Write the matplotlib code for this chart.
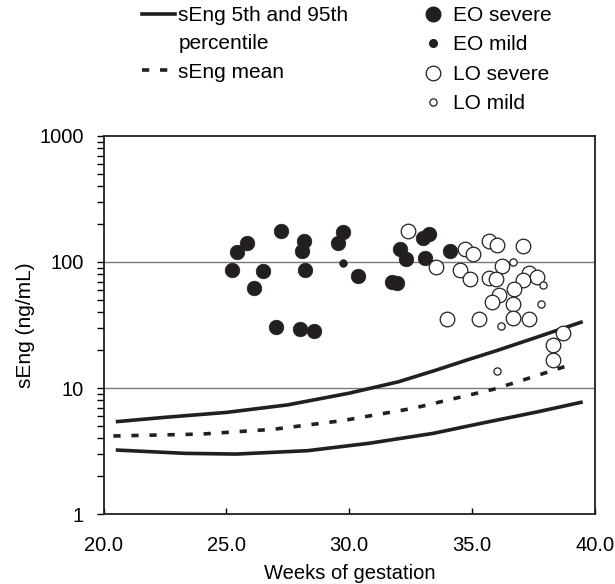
import numpy as np
import matplotlib
matplotlib.use("Agg")
from matplotlib import pyplot as plt
from matplotlib.lines import Line2D

plt.rcParams['font.family'] = ['Liberation Sans', 'DejaVu Sans']

INK = '#231f20'

# reference curves (weeks, sEng ng/mL)
p95_w = [20.5, 22.5, 25.0, 27.5, 30.0, 32.0, 33.5, 34.8, 36.0, 37.5, 39.5]
p95_v = [5.4, 5.85, 6.4, 7.35, 9.1, 11.2, 13.8, 16.7, 19.8, 24.8, 33.6]

p5_w = [20.5, 23.3, 25.4, 28.3, 30.8, 33.4, 35.5, 37.7, 39.5]
p5_v = [3.22, 3.03, 2.99, 3.18, 3.64, 4.36, 5.31, 6.49, 7.75]

mean_w = [20.4, 24.0, 26.9, 29.7, 32.6, 35.9, 37.5, 39.05]
mean_v = [4.16, 4.31, 4.7, 5.5, 6.9, 9.8, 12.3, 15.4]

# patients
eo_sev_w = [25.22, 25.43, 25.85, 26.13, 26.50, 27.22, 27.01, 28.14, 28.06, 28.21,
            28.01, 28.58, 29.55, 29.76, 30.35, 31.72, 31.95, 32.06, 32.31, 33.01,
            33.25, 33.09, 34.10]
eo_sev_v = [86.5, 119, 142, 61.8, 84.9, 175, 30.3, 146, 123, 86,
            29.3, 28.2, 142, 174, 77.4, 69.8, 68.5, 126, 105, 154,
            167, 107, 123]

eo_mild_w = [29.73]
eo_mild_v = [99]

lo_sev_w = [32.38, 33.53, 33.97, 34.73, 35.02, 35.68, 36.03, 37.08, 34.50, 34.91,
            36.22, 35.68, 35.97, 37.31, 37.62, 37.08, 36.70, 36.09, 35.81, 36.67,
            35.30, 36.67, 37.30, 38.30, 38.30, 38.71]
lo_sev_v = [176, 91.9, 35.1, 127, 116, 146, 136, 134, 86.9, 73.6,
            93.3, 74.3, 72.9, 82.3, 76.4, 71.6, 60.8, 54.5, 48.2, 46.1,
            35.2, 36.0, 35.4, 22.1, 16.7, 27.5]

lo_mild_w = [36.65, 37.87, 37.81, 36.16, 36.02]
lo_mild_v = [100, 66.1, 46.2, 31.0, 13.7]

xticks = [20, 25, 30, 35, 40]
yticks = [1, 10, 100, 1000]

fig = plt.figure(figsize=(6.15, 5.84), dpi=100)
ax = fig.add_axes([103.5/615, 1-514/584, (595-103.5)/615, (514-136)/584])

ax.set_yscale('log')
ax.set_xlim(20, 40)
ax.set_ylim(1, 1000)

for y in [10, 100]:
    ax.axhline(y, color='#7a7a7a', lw=1.0, zorder=1)

ax.plot(p95_w, p95_v, color=INK, lw=2.6, solid_capstyle='butt', zorder=2)
ax.plot(p5_w, p5_v, color=INK, lw=2.6, solid_capstyle='butt', zorder=2)
ax.plot(mean_w, mean_v, color=INK, lw=2.6, dashes=(2, 3), zorder=2)

ax.plot(eo_sev_w, eo_sev_v, 'o', ms=10.5, mfc=INK, mec=INK, mew=0.5, zorder=3)
ax.plot(eo_mild_w, eo_mild_v, 'o', ms=5.5, mfc=INK, mec=INK, mew=0.5, zorder=3)
ax.plot(lo_sev_w, lo_sev_v, 'o', ms=10.5, mfc='white', mec=INK, mew=0.9, zorder=4)
ax.plot(lo_mild_w, lo_mild_v, 'o', ms=5.2, mfc='white', mec=INK, mew=0.9, zorder=4)

ax.set_xticks(xticks)
ax.set_xticklabels(['%.1f' % x for x in xticks])
ax.set_yticks(yticks)
ax.set_yticklabels([str(y) for y in yticks])
ax.tick_params(axis='x', direction='in', length=4, width=1, pad=16, labelsize=14.5)
ax.tick_params(axis='y', which='major', direction='out', length=5, width=1, pad=9, labelsize=14.5)
ax.tick_params(axis='y', which='minor', direction='out', length=5, width=1)
ax.minorticks_on()
ax.tick_params(axis='x', which='minor', bottom=False)

for s in ax.spines.values():
    s.set_linewidth(1.3)
    s.set_color(INK)

ax.set_xlabel('Weeks of gestation', fontsize=14.5, labelpad=6)
ax.set_ylabel('sEng (ng/mL)', fontsize=15, labelpad=3)

# legends
line_handles = [Line2D([], [], color=INK, lw=2.6),
                Line2D([], [], color='none'),
                Line2D([], [], color=INK, lw=2.6, dashes=(2, 3))]
leg1 = fig.legend(line_handles, ['sEng 5th and 95th', 'percentile', 'sEng mean'],
                  loc='upper left', bbox_to_anchor=(142/615, 1-6/584),
                  frameon=False, fontsize=15, borderpad=0, borderaxespad=0,
                  handlelength=1.6, handletextpad=0.15, labelspacing=0.45)

mark_handles = [Line2D([], [], ls='none', marker='o', ms=10.5, mfc=INK, mec=INK),
                Line2D([], [], ls='none', marker='o', ms=5.5, mfc=INK, mec=INK),
                Line2D([], [], ls='none', marker='o', ms=10.5, mfc='white', mec=INK, mew=0.9),
                Line2D([], [], ls='none', marker='o', ms=5.2, mfc='white', mec=INK, mew=0.9)]
leg2 = fig.legend(mark_handles, ['EO severe', 'EO mild', 'LO severe', 'LO mild'],
                  loc='upper left', bbox_to_anchor=(422.6/615, 1-6/584),
                  frameon=False, fontsize=15, borderpad=0, borderaxespad=0,
                  handlelength=1.0, handletextpad=0.48, labelspacing=0.5)

fig.savefig('out.png', dpi=100)
